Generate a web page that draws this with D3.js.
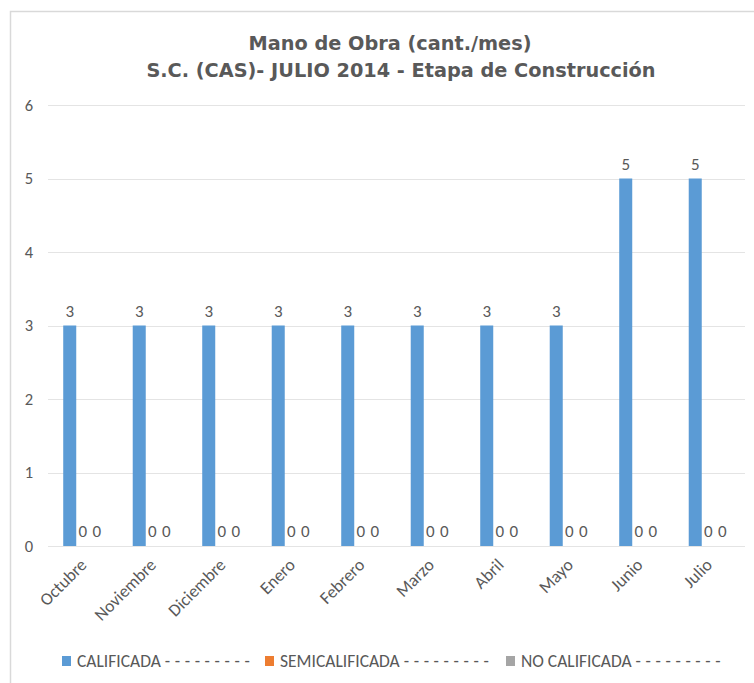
<!DOCTYPE html>
<html>
<head>
<meta charset="utf-8">
<script src="https://cdn.jsdelivr.net/npm/d3@7"></script>
<style>
  body { margin: 0; background: #fff; }
  svg text { fill: #595959; }
</style>
</head>
<body>
<svg id="chart"></svg>
<script>
// data
var months = ["Octubre", "Noviembre", "Diciembre", "Enero", "Febrero", "Marzo", "Abril", "Mayo", "Junio", "Julio"];
var calificada = [3, 3, 3, 3, 3, 3, 3, 3, 5, 5];
var semicalificada = [0, 0, 0, 0, 0, 0, 0, 0, 0, 0];
var noCalificada = [0, 0, 0, 0, 0, 0, 0, 0, 0, 0];
var seriesNames = ["CALIFICADA", "SEMICALIFICADA", "NO CALIFICADA"];
var seriesColors = ["#5b9bd5", "#ed7d31", "#a5a5a5"];
var yTicks = [0, 1, 2, 3, 4, 5, 6];
var titleLines = ["Mano de Obra (cant./mes)", "S.C. (CAS)- JULIO 2014 - Etapa de Construcción"];

var width = 754, height = 683;
var labelFont = "Carlito, 'Liberation Sans Narrow', 'Open Sans', sans-serif";

var svg = d3.select("#chart")
  .attr("width", width)
  .attr("height", height);

// chart frame
svg.append("rect")
  .attr("x", 10.5).attr("y", 11.5)
  .attr("width", 760).attr("height", 700)
  .attr("fill", "none")
  .attr("stroke", "#d9d9d9")
  .attr("stroke-width", 1.5);

var allSeries = [calificada, semicalificada, noCalificada];

var x = d3.scaleBand()
  .domain(months)
  .range([48, 743]);

var x1 = d3.scaleBand()
  .domain(d3.range(allSeries.length))
  .range([0, x.bandwidth()])
  .paddingInner(0)
  .paddingOuter(1.17);

var y = d3.scaleLinear()
  .domain([0, 6])
  .range([546, 105]);

// gridlines
svg.selectAll(".grid")
  .data(yTicks)
  .enter()
  .append("line")
  .attr("x1", 48).attr("x2", 745)
  .attr("y1", function(d){ return Math.round(y(d)) + 0.5; })
  .attr("y2", function(d){ return Math.round(y(d)) + 0.5; })
  .attr("stroke", "#e4e4e4")
  .attr("stroke-width", 1.2);

// y labels
svg.selectAll(".ylab")
  .data(yTicks)
  .enter()
  .append("text")
  .text(function(d){ return d; })
  .attr("x", 33)
  .attr("y", function(d){ return y(d) + 5.5; })
  .attr("text-anchor", "end")
  .attr("font-family", labelFont)
  .attr("font-size", "16.5px");

// bars
var labelShift = [0, 0, 1];
allSeries.forEach(function(vals, s) {
  var g = svg.append("g");
  g.selectAll("rect")
    .data(vals)
    .enter()
    .append("rect")
    .attr("x", function(d, i){ return x(months[i]) + x1(s); })
    .attr("y", function(d){ return y(d); })
    .attr("width", x1.bandwidth())
    .attr("height", function(d){ return y(0) - y(d); })
    .attr("fill", seriesColors[s]);

  g.selectAll("text")
    .data(vals)
    .enter()
    .append("text")
    .text(function(d){ return d; })
    .attr("x", function(d, i){ return x(months[i]) + x1(s) + x1.bandwidth() / 2 + labelShift[s]; })
    .attr("y", function(d){ return y(d) - 9; })
    .attr("text-anchor", "middle")
    .attr("font-family", labelFont)
    .attr("font-size", "17px");
});

// x labels
svg.selectAll(".xlab")
  .data(months)
  .enter()
  .append("text")
  .text(function(d){ return d; })
  .attr("transform", function(d){
    return "translate(" + (x(d) + x.bandwidth() / 2 + 5) + ",566) rotate(-45)";
  })
  .attr("text-anchor", "end")
  .attr("font-family", labelFont)
  .attr("font-size", "17.5px");

// title
var titleX = [390, 401];
svg.selectAll(".title")
  .data(titleLines)
  .enter()
  .append("text")
  .text(function(d){ return d; })
  .attr("x", function(d, i){ return titleX[i]; })
  .attr("y", function(d, i){ return 50 + i * 27; })
  .attr("text-anchor", "middle")
  .attr("font-family", "'DejaVu Sans', Verdana, sans-serif")
  .attr("font-weight", "bold")
  .attr("font-size", "19.3px");

// legend
var legendX = [62, 265, 506];
var legend = svg.selectAll(".legend")
  .data(seriesNames)
  .enter()
  .append("g")
  .attr("transform", function(d, i){ return "translate(" + legendX[i] + ",656)"; });

legend.append("rect")
  .attr("width", 9)
  .attr("height", 10)
  .attr("fill", function(d, i){ return seriesColors[i]; });

var legendText = legend.append("text")
  .attr("x", 15)
  .attr("y", 11)
  .attr("font-family", labelFont)
  .attr("font-size", "17.5px");

legendText.append("tspan")
  .text(function(d){ return d; });

legendText.append("tspan")
  .attr("dx", 4)
  .attr("letter-spacing", "4.6px")
  .text("---------");
</script>
</body>
</html>
